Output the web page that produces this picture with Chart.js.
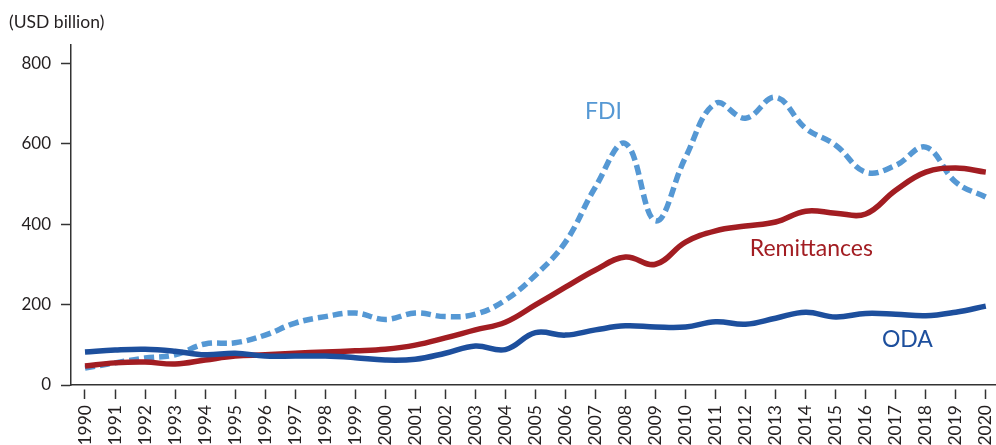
<!DOCTYPE html>
<html>
<head>
<meta charset="utf-8">
<script src="https://cdn.jsdelivr.net/npm/chart.js@4.4.1/dist/chart.umd.min.js"></script>
<style>
  html, body { margin: 0; padding: 0; background: #fff; }
  #wrap { width: 996px; height: 445px; position: relative; }
</style>
</head>
<body>
<div id="wrap"><canvas id="flows"></canvas></div>
<script>
const years = [1990, 1991, 1992, 1993, 1994, 1995, 1996, 1997, 1998, 1999, 2000, 2001, 2002, 2003, 2004, 2005,
  2006, 2007, 2008, 2009, 2010, 2011, 2012, 2013, 2014, 2015, 2016, 2017, 2018, 2019, 2020];
const fdi = [42, 55, 67, 75, 102, 105, 124, 154, 170, 179, 163, 179, 170, 176, 211, 273,
  355, 492, 600, 408, 566, 700, 663, 715, 638, 596, 529, 546, 591, 504, 467];
const remittances = [47, 55, 57, 52, 62, 72, 75, 79, 82, 85, 89, 99, 117, 137, 156, 199,
  243, 286, 318, 300, 355, 383, 395, 405, 432, 427, 425, 484, 529, 539, 529];
const oda = [82, 87, 89, 84, 75, 79, 72, 72, 72, 68, 62, 64, 79, 97, 88, 130,
  124, 137, 147, 144, 144, 157, 151, 166, 181, 169, 178, 176, 172, 181, 196];
const yTicks = [0, 200, 400, 600, 800];

const FONT = 'Lato, "Open Sans", sans-serif';
const INK = '#231f20';

function points(vals) {
  return vals.map((v, i) => ({ x: years[i], y: v }));
}

// series names written next to their lines, plus the unit note
const labelPlugin = {
  id: 'seriesLabels',
  afterDraw(chart) {
    const c = chart.ctx, xs = chart.scales.x, ys = chart.scales.y;
    c.save();
    c.font = '17.5px ' + FONT;
    c.fillStyle = INK;
    c.textBaseline = 'alphabetic';
    c.textAlign = 'left';
    c.fillText('(USD billion)', 9, 28);
    c.font = '23px ' + FONT;
    const tags = [
      ['FDI', 2006.65, 661, '#5598d4'],
      ['Remittances', 2012.14, 320, '#a21d22'],
      ['ODA', 2016.54, 94, '#1d4f9d']
    ];
    tags.forEach(t => {
      c.fillStyle = t[3];
      c.fillText(t[0], xs.getPixelForValue(t[1]), ys.getPixelForValue(t[2]));
    });
    c.restore();
  }
};

new Chart(document.getElementById('flows'), {
  type: 'line',
  data: {
    datasets: [{
      label: 'ODA',
      data: points(oda),
      borderColor: '#1d4f9d',
      borderWidth: 5.5,
      tension: 0.4,
      pointRadius: 0
    }, {
      label: 'Remittances',
      data: points(remittances),
      borderColor: '#a21d22',
      borderWidth: 5.5,
      tension: 0.4,
      pointRadius: 0
    }, {
      label: 'FDI',
      data: points(fdi),
      borderColor: '#5598d4',
      borderWidth: 5.5,
      borderDash: [10, 5],
      tension: 0.4,
      pointRadius: 0
    }]
  },
  options: {
    responsive: true,
    maintainAspectRatio: false,
    animation: false,
    layout: { padding: { top: 45, left: 0, right: 0, bottom: 0 } },
    plugins: { legend: { display: false }, tooltip: { enabled: false } },
    scales: {
      x: {
        type: 'linear',
        min: 1989.534,
        max: 2020.34,
        afterBuildTicks: s => { s.ticks = years.map(v => ({ value: v })); },
        afterFit: s => { s.height = 60; s.paddingLeft = 0; s.paddingRight = 0; },
        border: { color: '#333', width: 1.5 },
        grid: {
          drawOnChartArea: false,
          tickLength: 14,
          tickColor: '#333',
          tickWidth: 1.5,
          tickBorderDash: [10, 4],
          tickBorderDashOffset: 10
        },
        ticks: {
          autoSkip: false,
          minRotation: 90,
          maxRotation: 90,
          padding: 6,
          color: INK,
          font: { family: FONT, size: 17.5 },
          callback: v => String(v)
        }
      },
      y: {
        min: 0,
        max: 845,
        afterBuildTicks: s => { s.ticks = yTicks.map(v => ({ value: v })); },
        afterFit: s => { s.width = 71; s.paddingTop = 0; s.paddingBottom = 0; },
        border: { color: '#333', width: 1.5 },
        grid: { drawOnChartArea: false, tickLength: 10, tickColor: '#333', tickWidth: 1.5 },
        ticks: {
          padding: 10,
          color: INK,
          font: { family: FONT, size: 17 }
        }
      }
    }
  },
  plugins: [labelPlugin]
});
</script>
</body>
</html>
